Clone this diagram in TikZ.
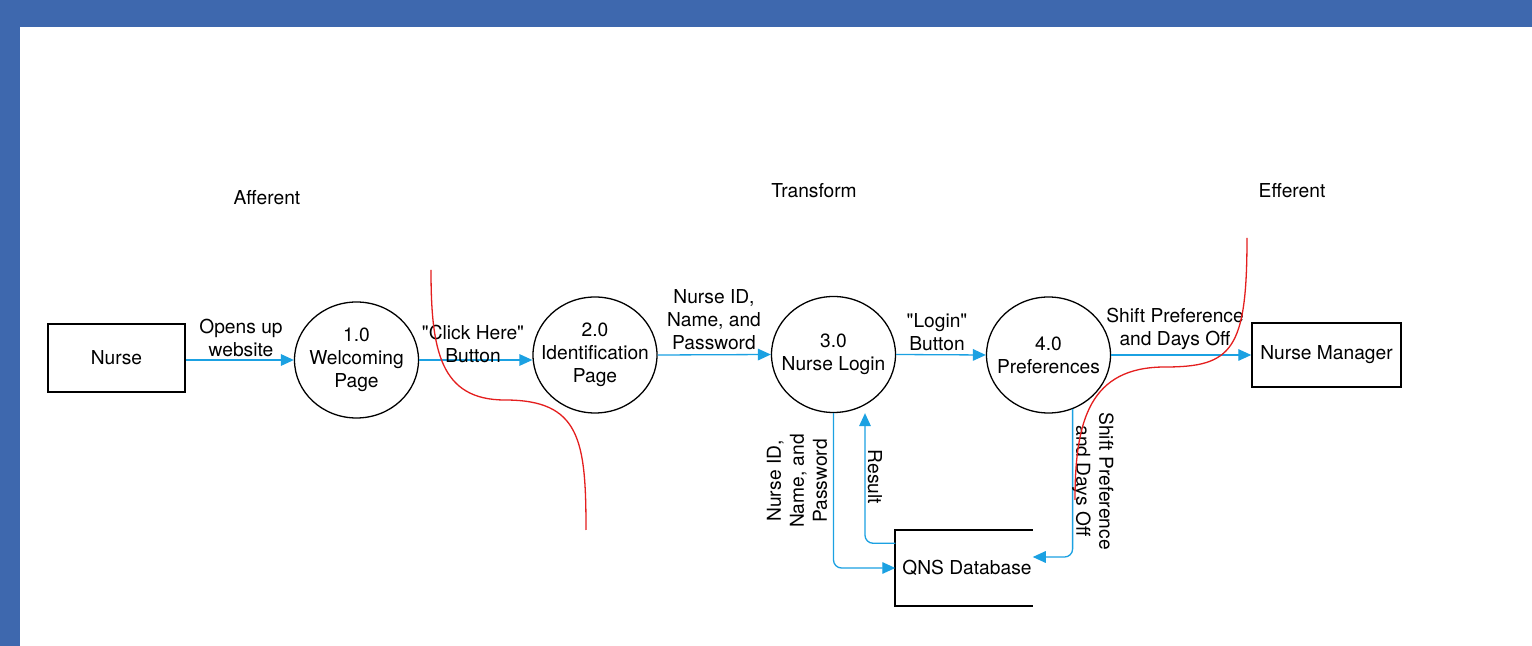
\documentclass[tikz,border=0pt]{standalone}
\usepackage{fontspec}
\setmainfont{TeX Gyre Heros}[Ligatures=TeXOff]
\usepackage{tikz}
\usetikzlibrary{arrows.meta,shapes.geometric}
\definecolor{framecol}{RGB}{62,104,174}
\definecolor{flowcol}{RGB}{27,161,226}
\definecolor{cutcol}{RGB}{228,30,30}

\begin{document}
\begin{tikzpicture}[x=0.5pt,y=-0.5pt,
		font=\fontsize{9.6}{11.5}\selectfont,
		flow/.style={draw=flowcol,line width=0.65pt,rounded corners=4pt,
			-{Triangle[length=6.5pt,width=5.8pt,flowcol]}},
		cut/.style={draw=cutcol,line width=0.65pt},
		flowlabel/.style={align=center,inner sep=0pt}]
		\useasboundingbox (0,0) rectangle (1532,646);
		\fill[framecol] (0,0) rectangle (1532,646);
		\fill[white] (20,27) rectangle (1532,646);
		% phases
		\node (aff) at (267,198) {Afferent};
		\node (trans) at (814,191) {Transform};
		\node (eff) at (1292,191) {Efferent};
		\begin{scope}[every node/.style={ellipse,draw,line width=0.65pt,minimum width=62pt,
				minimum height=58pt,inner xsep=-6pt,inner ysep=0pt,align=center}]
			\node (P1) at (356.5,360) {1.0\\Welcoming\\Page};
			\node (P2) at (595,355) {2.0\\Identification\\Page};
			\node (P3) at (833.5,354.5) {3.0\\Nurse Login};
			\node (P4) at (1048.5,355) {4.0\\Preferences};
		\end{scope}
		\begin{scope}[every node/.style={rectangle,draw,line width=0.75pt,inner sep=0pt}]
			\node[minimum width=68.5pt,minimum height=34pt] (nurse) at (116.5,358) {Nurse};
			\node[minimum width=74.5pt,minimum height=32pt] (mgr) at (1326.5,355) {Nurse Manager};
			\node[draw=none,minimum width=68pt,minimum height=37pt] (qns) at (964,568) {\hspace{3pt}QNS Database};
		\end{scope}
		\draw[line width=1.2pt] (qns.north east) -- (qns.north west) -- (qns.south west) -- (qns.south east);
		% data flows
		\draw[flow] (nurse.east |- P1.west) -- (P1.west);
		\draw[flow] (P1.east) -- (P1.east -| P2.west);
		\draw[flow] (P2.east) -- (P3.west);
		\draw[flow] (P3.east) -- (P4.west);
		\draw[flow] (P4.east) -- (mgr.west);
		\draw[flow] (P3.south) |- (qns.west);
		\draw[flow] ([yshift=-6.5pt]qns.north west) -| ([xshift=15.75pt]P3.south);
		\draw[flow] (P4.-66) |- ([yshift=5.5pt]qns.east);
		% labels
		\begin{scope}[every node/.style={flowlabel}]
			\node (l1) at (241,338) {Opens up\\website};
			\node (l2) at (473,344) {"Click Here"\\Button};
			\node (l3) at (714,320) {Nurse ID,\\Name, and\\Password};
			\node (l4) at (937,332) {"Login"\\Button};
			\node (l5) at (1175,329) {Shift Preference\\and Days Off};
			\node[rotate=90] (l6) at (797,481) {Nurse ID,\\Name, and\\Password};
			\node[rotate=-90] (l7) at (875,477) {Result};
			\node[rotate=-90] (l8) at (1093,481) {Shift Preference\\and Days Off};
		\end{scope}
		% boundaries
		\draw[cut] (431,270) .. controls (431,350) and (440,400) .. (505,400)
			.. controls (580,400) and (586,440) .. (586,530);
		\draw[cut] (1247,238) .. controls (1247,350) and (1232,367) .. (1165,367)
			.. controls (1090,367) and (1075,420) .. (1075,500);
	\end{tikzpicture}
\end{document}
